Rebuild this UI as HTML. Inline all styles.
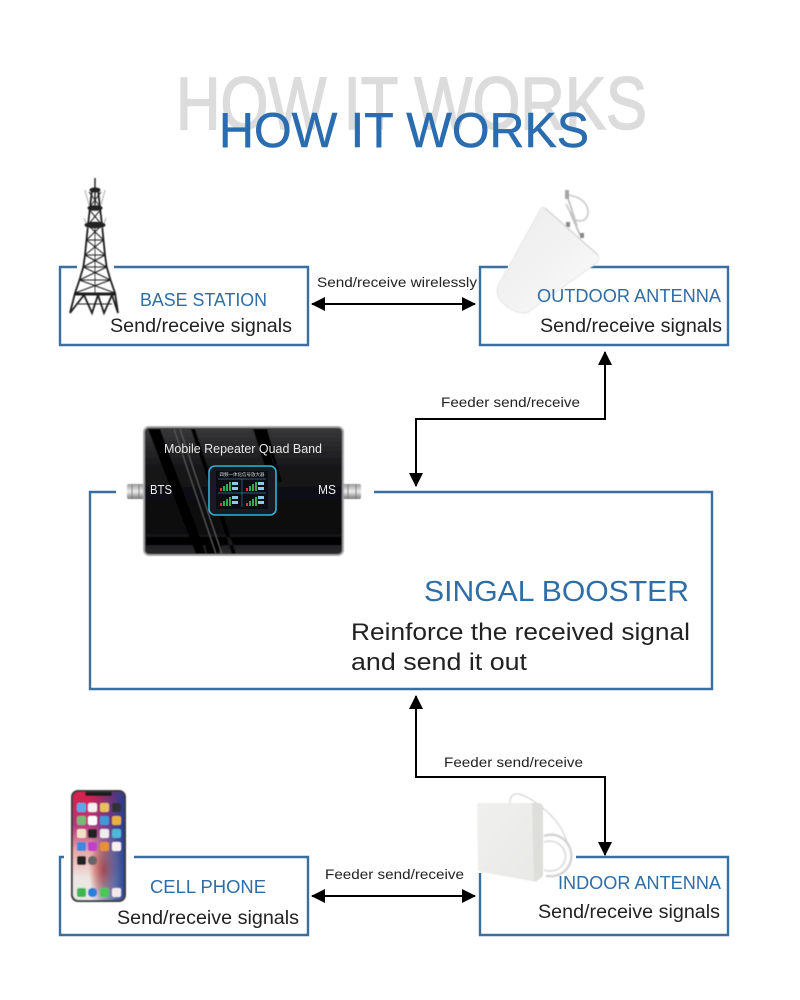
<!DOCTYPE html>
<html><head><meta charset="utf-8"><style>
html,body{margin:0;padding:0;background:#fff}
svg{display:block}
text{font-family:"Liberation Sans",sans-serif}
.h{fill:#2f6da6;font-size:18px}
.s{fill:#222;font-size:19px}
.l{fill:#222;font-size:14px}
</style></head><body>
<svg width="800" height="1000" viewBox="0 0 800 1000" xmlns="http://www.w3.org/2000/svg">
<defs>
<filter id="b" x="-5%" y="-5%" width="110%" height="110%"><feGaussianBlur stdDeviation="0.45"/></filter>
<linearGradient id="ph" x1="0" y1="0" x2="0" y2="1">
<stop offset="0" stop-color="#d81f4a"/><stop offset=".3" stop-color="#b8357f"/><stop offset=".55" stop-color="#e9a8a8"/><stop offset=".8" stop-color="#ece6e2"/><stop offset="1" stop-color="#e8e6e4"/>
</linearGradient>
<linearGradient id="ph2" x1="0" y1="0" x2="1" y2="0">
<stop offset=".35" stop-color="#24408c" stop-opacity="0"/><stop offset="1" stop-color="#1f3f96" stop-opacity=".95"/>
</linearGradient>
<radialGradient id="ph3" cx=".6" cy=".72" r=".3"><stop offset="0" stop-color="#e8401f" stop-opacity=".9"/><stop offset="1" stop-color="#e8401f" stop-opacity="0"/></radialGradient>
<linearGradient id="ant" x1="0" y1="0" x2="1" y2="1">
<stop offset="0" stop-color="#ececec"/><stop offset=".6" stop-color="#f4f4f4"/><stop offset="1" stop-color="#fbfbfb"/>
</linearGradient>
<linearGradient id="dev" x1="0" y1="0" x2="0" y2="1">
<stop offset="0" stop-color="#38383a"/><stop offset=".35" stop-color="#141416"/><stop offset=".8" stop-color="#0b0b0d"/><stop offset="1" stop-color="#2c2c2e"/>
</linearGradient>
<linearGradient id="conn" x1="0" y1="0" x2="0" y2="1">
<stop offset="0" stop-color="#999"/><stop offset=".5" stop-color="#eee"/><stop offset="1" stop-color="#777"/>
</linearGradient>
<linearGradient id="panel" x1="0" y1="0" x2="1" y2="1">
<stop offset="0" stop-color="#f0f0ee"/><stop offset="1" stop-color="#e8e8e5"/>
</linearGradient>
<marker id="a" viewBox="0 0 14 14" refX="13" refY="7" markerWidth="14" markerHeight="14" markerUnits="userSpaceOnUse" orient="auto-start-reverse"><path d="M0 0L14 7L0 14z" fill="#000"/></marker>
</defs>

<!-- Title -->
<text x="176" y="129" font-size="74" fill="#dcdcdc" stroke="#dcdcdc" stroke-width="1.6" textLength="471" lengthAdjust="spacingAndGlyphs">HOW IT WORKS</text>
<text x="219" y="147" font-size="49" fill="#2a6cb0" stroke="#2a6cb0" stroke-width=".5" textLength="370" lengthAdjust="spacingAndGlyphs">HOW IT WORKS</text>

<!-- Boxes -->
<g fill="none" stroke="#3a6f9f" stroke-width="2.4">
<path d="M77 267H60V345H308V267H114"/>
<path d="M508 267H480V345H728V267H590"/>
<path d="M116 492H90V689H712V492H374"/>
<path d="M64 857H60V935H308V857H134"/>
<path d="M480 873V935H728V857H576"/>
</g>

<!-- Connectors -->
<g fill="none" stroke="#000" stroke-width="2">
<path d="M312 304H475" marker-start="url(#a)" marker-end="url(#a)"/>
<path d="M605 352V419H416V486" marker-start="url(#a)" marker-end="url(#a)"/>
<path d="M416 696V777H605V855" marker-start="url(#a)" marker-end="url(#a)"/>
<path d="M312 896H475" marker-start="url(#a)" marker-end="url(#a)"/>
</g>

<!-- Tower -->
<g fill="none" stroke="#1c1c1c" stroke-width="1" filter="url(#b)">
<path d="M95 178V205" stroke-width="1.4"/>
<path d="M92 190L88 225L86.5 240L85 255L83.3 267L79.5 280L75 293L70 313" stroke-width="1.8"/>
<path d="M98 190L102 225L103.5 240L105 255L106.7 267L110.5 280L115 293L118 313" stroke-width="1.8"/>
<path d="M89 192L101 208M101 192L89 208M88 208L102 225M102 208L88 225"/>
<path d="M88 225L103.5 240M102 225L86.5 240M86.5 240L105 255M103.5 240L85 255M85 255L106.7 267M105 255L83.3 267M83.3 267L110.5 280M106.7 267L79.5 280M79.5 280L115 293M110.5 280L75 293" stroke-width="1.1"/>
<path d="M86.5 240H103.5M85 255H105M83.3 267H106.7M79.5 280H110.5"/>
<path d="M74 294H116" stroke-width="3"/>
<path d="M95 225V294" stroke-width=".8"/>
<path d="M70 313L84 295L92 313L98 295L104 313L112 295L118 313" stroke-width="1.8"/>
<path d="M78 304H112" stroke-width="1"/>
<path d="M85 190L89 205M105 190L101 205M84 218L88 228M106 218L102 228" stroke="#aaa"/>
<ellipse cx="95" cy="190" rx="5" ry="2" fill="#222"/>
<ellipse cx="95" cy="208" rx="7" ry="2.3" fill="#222"/>
<ellipse cx="95" cy="225" rx="10" ry="2.8" fill="#222"/>
</g>

<!-- Outdoor antenna -->
<g filter="url(#b)">
<path d="M568 195C575 196 588 200 588 212C588 222 578 223 573 218L566 204" fill="none" stroke="#cfcfcf" stroke-width="1.8"/>
<path d="M566 192L577 226M570 212L580 235" fill="none" stroke="#c4c4c4" stroke-width="2"/>
<rect x="565" y="190" width="4" height="9" fill="#a5a5a5"/>
<rect x="566" y="222" width="4" height="5" fill="#888"/>
<rect x="580" y="233" width="4" height="5" fill="#888"/>
<path d="M545 208C543 207 541 208 540 210L498 286C496 291 497 295 500 300C507 308 516 313 523 313C526 313 529 312 531 310L598 262C599 260 599 257 598 255Z" fill="url(#ant)" stroke="#e6e6e6"/>
<path d="M545 208L598 255" stroke="#d4d4d4" fill="none" stroke-width="1.4"/>
</g>

<!-- Booster device -->
<g>
<g filter="url(#b)">
<rect x="127" y="484" width="17" height="15" rx="2" fill="url(#conn)"/>
<path d="M132 484V499M139 484V499" stroke="#777" stroke-width="1"/>
<rect x="343" y="484" width="18" height="15" rx="2" fill="url(#conn)"/>
<path d="M348 484V499M356 484V499" stroke="#777" stroke-width="1"/>
<rect x="144" y="427" width="199" height="128" rx="5" fill="url(#dev)" stroke="#a3a3a3" stroke-width="1.8"/>
<path d="M148 429H160L206 554H196ZM191 429L232 554H236L195 429ZM253 429H264L278 482H270ZM264 429H267L282 482H279ZM146 537H342V545H146ZM205 545H222L218 554H207Z" fill="#000"/>
<path d="M174 429L216 554M180 429L222 554" stroke="#666" stroke-width=".8" fill="none"/>
</g>
<rect x="209" y="466" width="67" height="49" rx="6" fill="#171a20" stroke="#2fb2d8" stroke-width="1.6"/>
<rect x="216" y="471" width="52" height="38" fill="#0b0d12"/>
<g fill="#3aa852">
<rect x="220" y="488" width="2" height="3" fill="#e33"/><rect x="223" y="486" width="2" height="5"/><rect x="226" y="484" width="2" height="7"/><rect x="229" y="482" width="2" height="9"/>
<rect x="246" y="488" width="2" height="3" fill="#e33"/><rect x="249" y="486" width="2" height="5"/><rect x="252" y="484" width="2" height="7"/><rect x="255" y="482" width="2" height="9"/>
<rect x="220" y="503" width="2" height="3" fill="#e33"/><rect x="223" y="501" width="2" height="5"/><rect x="226" y="499" width="2" height="7"/><rect x="229" y="497" width="2" height="9"/>
<rect x="246" y="503" width="2" height="3" fill="#e33"/><rect x="249" y="501" width="2" height="5"/><rect x="252" y="499" width="2" height="7"/><rect x="255" y="497" width="2" height="9"/>
</g>
<path d="M218 479H266M218 493H266M242 479V507" stroke="#3a6f9f" stroke-width=".7"/>
<g fill="#8fc8e8"><rect x="232" y="482" width="6" height="3"/><rect x="232" y="487" width="6" height="3"/><rect x="258" y="482" width="6" height="3"/><rect x="258" y="487" width="6" height="3"/><rect x="232" y="496" width="6" height="3"/><rect x="232" y="501" width="6" height="3"/><rect x="258" y="496" width="6" height="3"/><rect x="258" y="501" width="6" height="3"/></g>
<text x="242" y="476" font-size="4.5" fill="#ddd" text-anchor="middle" style='font-family:"Liberation Sans","Noto Sans CJK SC",sans-serif'>四频一体化信号放大器</text>
<text x="164" y="453" font-size="13" fill="#e8e8e8" textLength="158" lengthAdjust="spacingAndGlyphs">Mobile Repeater Quad Band</text>
<text x="150" y="494" font-size="13" fill="#eee" textLength="22" lengthAdjust="spacingAndGlyphs">BTS</text>
<text x="318" y="494" font-size="13" fill="#eee" textLength="18" lengthAdjust="spacingAndGlyphs">MS</text>
</g>

<!-- Phone -->
<g filter="url(#b)">
<rect x="71" y="790" width="55" height="112" rx="7" fill="#3a3a3e"/>
<rect x="73" y="792" width="51" height="108" rx="5.5" fill="url(#ph)"/>
<rect x="73" y="792" width="51" height="108" rx="5.5" fill="url(#ph3)"/>
<rect x="73" y="792" width="51" height="108" rx="5.5" fill="url(#ph2)"/>
<rect x="85" y="792" width="27" height="4" rx="2" fill="#1a1a1a"/>
<rect x="77" y="803" width="9" height="9" rx="2" fill="#5aa8e8"/><rect x="88" y="803" width="9" height="9" rx="2" fill="#f4f0f4"/><rect x="100" y="803" width="9" height="9" rx="2" fill="#e8c060"/><rect x="112" y="803" width="9" height="9" rx="2" fill="#333"/>
<rect x="77" y="816" width="9" height="9" rx="2" fill="#7ab878"/><rect x="88" y="816" width="9" height="9" rx="2" fill="#fff"/><rect x="100" y="816" width="9" height="9" rx="2" fill="#3a9ad8"/><rect x="112" y="816" width="9" height="9" rx="2" fill="#e8b040"/>
<rect x="77" y="829" width="9" height="9" rx="2" fill="#f4e0c8"/><rect x="88" y="829" width="9" height="9" rx="2" fill="#222"/><rect x="100" y="829" width="9" height="9" rx="2" fill="#eee"/><rect x="112" y="829" width="9" height="9" rx="2" fill="#50b8d8"/>
<rect x="77" y="842" width="9" height="9" rx="2" fill="#3a88e0"/><rect x="88" y="842" width="9" height="9" rx="2" fill="#c040c8"/><rect x="100" y="842" width="9" height="9" rx="2" fill="#e89030"/><rect x="112" y="842" width="9" height="9" rx="2" fill="#f8f0f0"/>
<rect x="77" y="856" width="9" height="9" rx="2" fill="#222"/><rect x="88" y="856" width="9" height="9" rx="4" fill="#666"/>
<rect x="77" y="888" width="9" height="9" rx="2" fill="#3cb850"/><rect x="88" y="888" width="9" height="9" rx="4" fill="#2a80d8"/><rect x="100" y="888" width="9" height="9" rx="2" fill="#48c858"/><rect x="112" y="888" width="9" height="9" rx="2" fill="#f4e8ec"/>
</g>

<!-- Indoor antenna -->
<g filter="url(#b)">
<path d="M510 803C510 790 520 792 535 802C552 814 562 826 567 842" fill="none" stroke="#dcdcdc" stroke-width="1.4"/>
<path d="M544 836C560 830 574 845 571 860C567 875 555 877 546 876" fill="none" stroke="#d4d4d4" stroke-width="2.4"/>
<path d="M544 842C556 838 568 848 565 860C562 870 552 873 544 870" fill="none" stroke="#e0e0e0" stroke-width="2"/>
<path d="M479 803H538C541 803 543 805 543 808V874C543 877 541 878 538 879L537 882L481 872C479 872 478 870 478 868L477 806C477 804 478 803 479 803Z" fill="url(#panel)"/>
<path d="M532 803H538C541 803 543 805 543 808V874C543 877 541 878 538 880L534 881Z" fill="#dededb"/>
</g>

<!-- Connector labels -->
<text class="l" x="317" y="287" textLength="160" lengthAdjust="spacingAndGlyphs">Send/receive wirelessly</text>
<text class="l" x="441" y="407" textLength="139" lengthAdjust="spacingAndGlyphs">Feeder send/receive</text>
<text class="l" x="444" y="767" textLength="139" lengthAdjust="spacingAndGlyphs">Feeder send/receive</text>
<text class="l" x="325" y="879" textLength="139" lengthAdjust="spacingAndGlyphs">Feeder send/receive</text>

<!-- Box labels -->
<text class="h" x="140" y="306" textLength="127" lengthAdjust="spacingAndGlyphs">BASE STATION</text>
<text class="s" x="110" y="332" textLength="182" lengthAdjust="spacingAndGlyphs">Send/receive signals</text>
<text class="h" x="537" y="302" textLength="184" lengthAdjust="spacingAndGlyphs">OUTDOOR ANTENNA</text>
<text class="s" x="540" y="332" textLength="182" lengthAdjust="spacingAndGlyphs">Send/receive signals</text>
<text class="h" x="150" y="893" textLength="116" lengthAdjust="spacingAndGlyphs">CELL PHONE</text>
<text class="s" x="117" y="924" textLength="182" lengthAdjust="spacingAndGlyphs">Send/receive signals</text>
<text class="h" x="558" y="889" textLength="163" lengthAdjust="spacingAndGlyphs">INDOOR ANTENNA</text>
<text class="s" x="538" y="918" textLength="182" lengthAdjust="spacingAndGlyphs">Send/receive signals</text>
<text x="424" y="601" font-size="29" fill="#2f6da6" textLength="265" lengthAdjust="spacingAndGlyphs">SINGAL BOOSTER</text>
<text x="351" y="640" font-size="24.5" fill="#222" textLength="339" lengthAdjust="spacingAndGlyphs">Reinforce the received signal</text>
<text x="351" y="670" font-size="24.5" fill="#222" textLength="176" lengthAdjust="spacingAndGlyphs">and send it out</text>
</svg>
</body></html>
